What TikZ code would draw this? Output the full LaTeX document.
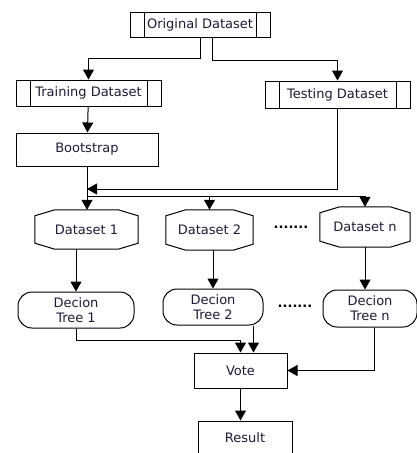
\documentclass[tikz,border=0pt]{standalone}
\usepackage{fontspec}
\setmainfont{DejaVu Sans}
\usetikzlibrary{arrows.meta,positioning}
\definecolor{rfink}{RGB}{28,28,52}
\tikzset{
  rfbox/.style={
    rectangle, draw=black, fill=white, line width=1pt,
    inner sep=2pt, text=rfink, font=\fontsize{13}{15}\selectfont
  },
  rfprocess/.style={
    rfbox,
    path picture={
      \draw[line width=1pt] ([xshift=14pt]path picture bounding box.north west) -- ([xshift=14pt]path picture bounding box.south west);
      \draw[line width=1pt] ([xshift=-14pt]path picture bounding box.north east) -- ([xshift=-14pt]path picture bounding box.south east);
    }
  },
  rfdata/.style={inner sep=2pt, text=rfink, font=\fontsize{13}{15}\selectfont},
  rfdataline/.style={draw=black, line width=1pt, line join=miter},
  rftree/.style={rfbox, rounded corners=14pt, align=center},
  rfdots/.style={inner sep=0pt, font=\fontsize{13}{15}\selectfont\bfseries},
  rfedge/.style={-{Triangle[width=11pt,length=10pt]}, line width=1pt},
  rfline/.style={line width=1pt}
}

\begin{document}
\begin{tikzpicture}[x=1pt,y=-1pt]
\useasboundingbox (0,0) rectangle (417,453);

\node[rfprocess,minimum width=140pt,minimum height=25pt] (orig) at (200,24.5) {Original Dataset};
\node[rfprocess,minimum width=145pt,minimum height=26pt] (train) at (88.5,93) {Training Dataset};
\node[rfprocess,minimum width=145pt,minimum height=27pt] (test) at (337.5,94.5) {Testing Dataset};
\node[rfbox,minimum width=142pt,minimum height=33pt] (boot) at (87,149.5) {Bootstrap};

\node[rfdata,minimum width=103pt,minimum height=39pt] (ds1) at (86.5,229.5) {Dataset 1};
\node[rfdata,minimum width=87pt,minimum height=40pt] (ds2) at (209.5,230) {Dataset 2};
\node[rfdata,minimum width=90pt,minimum height=40pt] (dsn) at (365,227) {Dataset n};
\foreach \n in {ds1,ds2,dsn}
  \draw[rfdataline] ([yshift=-6pt]\n.north west) -- ([xshift=20pt]\n.north west)
    -- ([xshift=-20pt]\n.north east) -- ([yshift=-6pt]\n.north east)
    -- ([yshift=6pt]\n.south east) -- ([xshift=-20pt]\n.south east)
    -- ([xshift=20pt]\n.south west) -- ([yshift=6pt]\n.south west) -- cycle;
\node[rfdots] (dotsA) at (291,227) {.......};

\node[rftree,minimum width=116pt,minimum height=36pt] (tree1) at (76,310) {Decion\\Tree 1};
\node[rftree,minimum width=100pt,minimum height=36pt] (tree2) at (213,307) {Decion\\Tree 2};
\node[rftree,minimum width=94pt,minimum height=37pt] (treen) at (370,308.5) {Decion\\Tree n};
\node[rfdots] (dotsB) at (295,306) {.......};

\node[rfbox,minimum width=93pt,minimum height=35pt] (vote) at (240.5,370.5) {Vote};
\node[rfbox,minimum width=94pt,minimum height=34pt] (result) at (245,438) {Result};

\coordinate (merge) at (87,189);
\coordinate (split) at (87,196);

\draw[rfedge] (orig.south) -- ++(0,21) -| (train.north);
\draw[rfedge] ([xshift=12pt]orig.south) -- ++(0,23) -| (test.north);
\draw[rfedge] (train) -- (boot);
\draw[rfedge] (boot.south) -- (boot.south |- ds1.north);
\draw[rfedge] (test.south) |- (merge);
\draw[rfline] (split) -- (split -| dsn.north);
\draw[rfedge] (split -| ds2.north) -- (ds2.north);
\draw[rfedge] (split -| dsn.north) -- (dsn.north);

\draw[rfedge] (tree1.north |- ds1.south) -- (tree1.north);
\draw[rfedge] (tree2.north |- ds2.south) -- (tree2.north);
\draw[rfedge] (dsn.south) -- (dsn.south |- treen.north);

\draw[rfedge] (tree1.south) |- ([yshift=12pt]vote.north) -- (vote.north);
\draw[rfedge] ([xshift=13pt]vote.north |- tree2.south) -- ([xshift=13pt]vote.north);
\draw[rfedge] ([xshift=4pt]treen.south) |- (vote.east);
\draw[rfedge] (vote) -- (vote.south |- result.north);
\end{tikzpicture}
\end{document}
